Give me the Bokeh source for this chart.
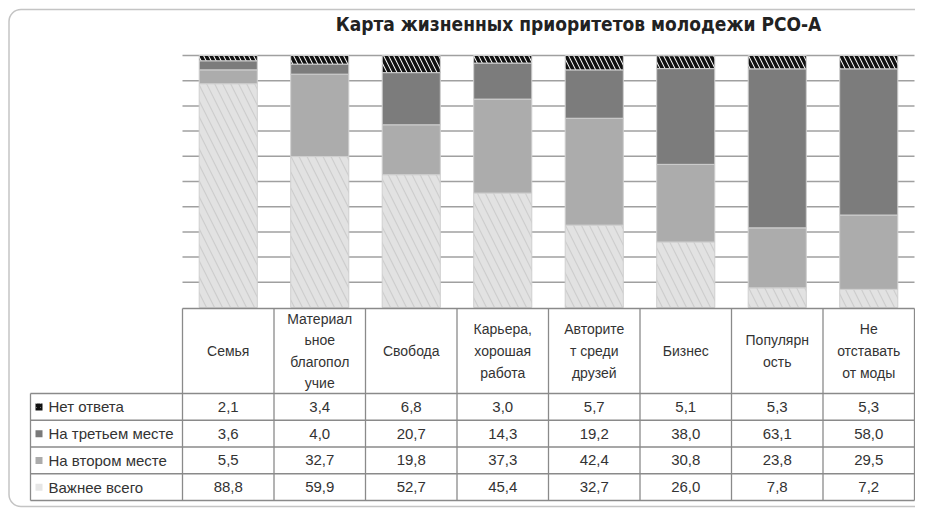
from bokeh.plotting import figure
from bokeh.models import Range1d, ColumnDataSource
from bokeh.core.properties import value
from bokeh.embed import file_html
from bokeh.resources import INLINE

# ---------------- data ----------------
title = "Карта жизненных приоритетов молодежи РСО-А"
categories = ["Семья", "Материал\nьное\nблагопол\nучие", "Свобода",
              "Карьера,\nхорошая\nработа", "Авторите\nт среди\nдрузей",
              "Бизнес", "Популярн\nость", "Не\nотставать\nот моды"]
series_names = ["Важнее всего", "На втором месте", "На третьем месте", "Нет ответа"]
most_important = [88.8, 59.9, 52.7, 45.4, 32.7, 26.0, 7.8, 7.2]
second_place = [5.5, 32.7, 19.8, 37.3, 42.4, 30.8, 23.8, 29.5]
third_place = [3.6, 4.0, 20.7, 14.3, 19.2, 38.0, 63.1, 58.0]
no_answer = [2.1, 3.4, 6.8, 3.0, 5.7, 5.1, 5.3, 5.3]
grid_ticks = [10, 20, 30, 40, 50, 60, 70, 80, 90, 100]

series_values = [most_important, second_place, third_place, no_answer]
fills = ["#e2e2e2", "#acacac", "#7c7c7c", "#ffffff"]

# ---------------- geometry (page px -> data) ----------------
W, H = 915, 508
OX, OY = 0, 0              # where the figure lands in the screenshot
X0, CW = 182.0, 91.5       # page x of column 0, column width
Y0, PY = 307.0, 2.52       # page y of value 0, px per unit


def dx(px):
    return (px - X0) / CW


def dy(py):
    return (Y0 - py) / PY


p = figure(width=W, height=H, output_backend="svg", toolbar_location=None,
           x_range=Range1d(dx(OX), dx(OX + W)), y_range=Range1d(dy(OY + H), dy(OY)),
           min_border=0)
p.axis.visible = False
p.grid.visible = False
p.outline_line_color = None
p.background_fill_color = "white"

n = len(categories)

# outer rounded frame
p.quad(left=[dx(8.5)], right=[dx(OX + W + 40)], top=[dy(9)], bottom=[dy(506)],
       fill_color=None, line_color="#c4c4c4", line_width=1.5, border_radius=12)

# title
p.text(x=[dx(578)], y=[dy(23)], text=[title], text_align="center", text_baseline="middle",
       text_font=value("DejaVu Sans Condensed, Liberation Sans, sans-serif"),
       text_font_style="bold", text_font_size="19px", text_color="#222222")

# gridlines
p.segment(x0=[0] * len(grid_ticks), x1=[n] * len(grid_ticks), y0=grid_ticks, y1=grid_ticks,
          line_color="#a0a0a0", line_width=1.5)

# stacked bars
xs = [i + 0.5 for i in range(n)]
bottom = [0.0] * n
for k, vals in enumerate(series_values):
    top = [b + v for b, v in zip(bottom, vals)]
    src = ColumnDataSource(dict(x=xs, bottom=bottom, top=top))
    kw = {}
    if k == 3:
        kw = dict(hatch_pattern="\\", hatch_color="#111111", hatch_weight=3.5, hatch_scale=10)
    elif k == 0:
        kw = dict(hatch_pattern="\\", hatch_color="#c4c4c4", hatch_weight=1.2, hatch_scale=16,
                  hatch_alpha=0.7)
    p.vbar(x="x", bottom="bottom", top="top", width=0.635, source=src,
           fill_color=fills[k], line_color="#cfcfcf", line_width=1, **kw)
    bottom = top

# ---------------- data table ----------------
row_edges = [308, 393, 419.75, 446.5, 473.25, 500]
line_c = "#8a8a8a"
label_left = 30

# horizontal table lines
hx0 = [0] + [dx(label_left)] * 5
hx1 = [n] * 6
hy = [dy(e) for e in row_edges]
p.segment(x0=hx0, x1=hx1, y0=hy, y1=hy, line_color=line_c, line_width=1.3)
# vertical lines
vx = [dx(label_left)] + list(range(n + 1))
vy0 = [dy(row_edges[1])] + [dy(row_edges[0])] * (n + 1)
vy1 = [dy(row_edges[-1])] * (n + 2)
p.segment(x0=vx, x1=vx, y0=vy0, y1=vy1, line_color=line_c, line_width=1.3)

# header texts
p.text(x=xs, y=[dy((row_edges[0] + row_edges[1]) / 2)] * n, text=categories,
       text_align="center", text_baseline="middle", text_line_height=1.35,
       text_font=value("Liberation Sans"), text_font_size="14px", text_color="#333333")

# table rows: top row is "Нет ответа", bottom "Важнее всего"
row_order = [3, 2, 1, 0]
marker_fill = ["#e6e6e6", "#ababab", "#7a7a7a", "#ffffff"]
for r, k in enumerate(row_order):
    yc = dy((row_edges[r + 1] + row_edges[r + 2]) / 2)
    vals = series_values[k]
    labels = [f"{v:.1f}".replace(".", ",") for v in vals]
    p.text(x=xs, y=[yc] * n, text=labels, text_align="center", text_baseline="middle",
           text_font=value("Liberation Sans"), text_font_size="15px", text_color="#333333")
    p.text(x=[dx(48)], y=[yc], text=[series_names[k]], text_align="left",
           text_baseline="middle", text_font=value("Liberation Sans"),
           text_font_size="15px", text_color="#333333")
    mk = dict(fill_color=marker_fill[k], line_color=None)
    if k == 3:
        mk = dict(fill_color="white", line_color=None, hatch_pattern="\\",
                  hatch_color="#111111", hatch_weight=2, hatch_scale=4)
    p.quad(left=[dx(35)], right=[dx(42)], top=[yc + 3.5 / PY], bottom=[yc - 3.5 / PY], **mk)

open("out.html", "w").write(file_html(p, INLINE))
